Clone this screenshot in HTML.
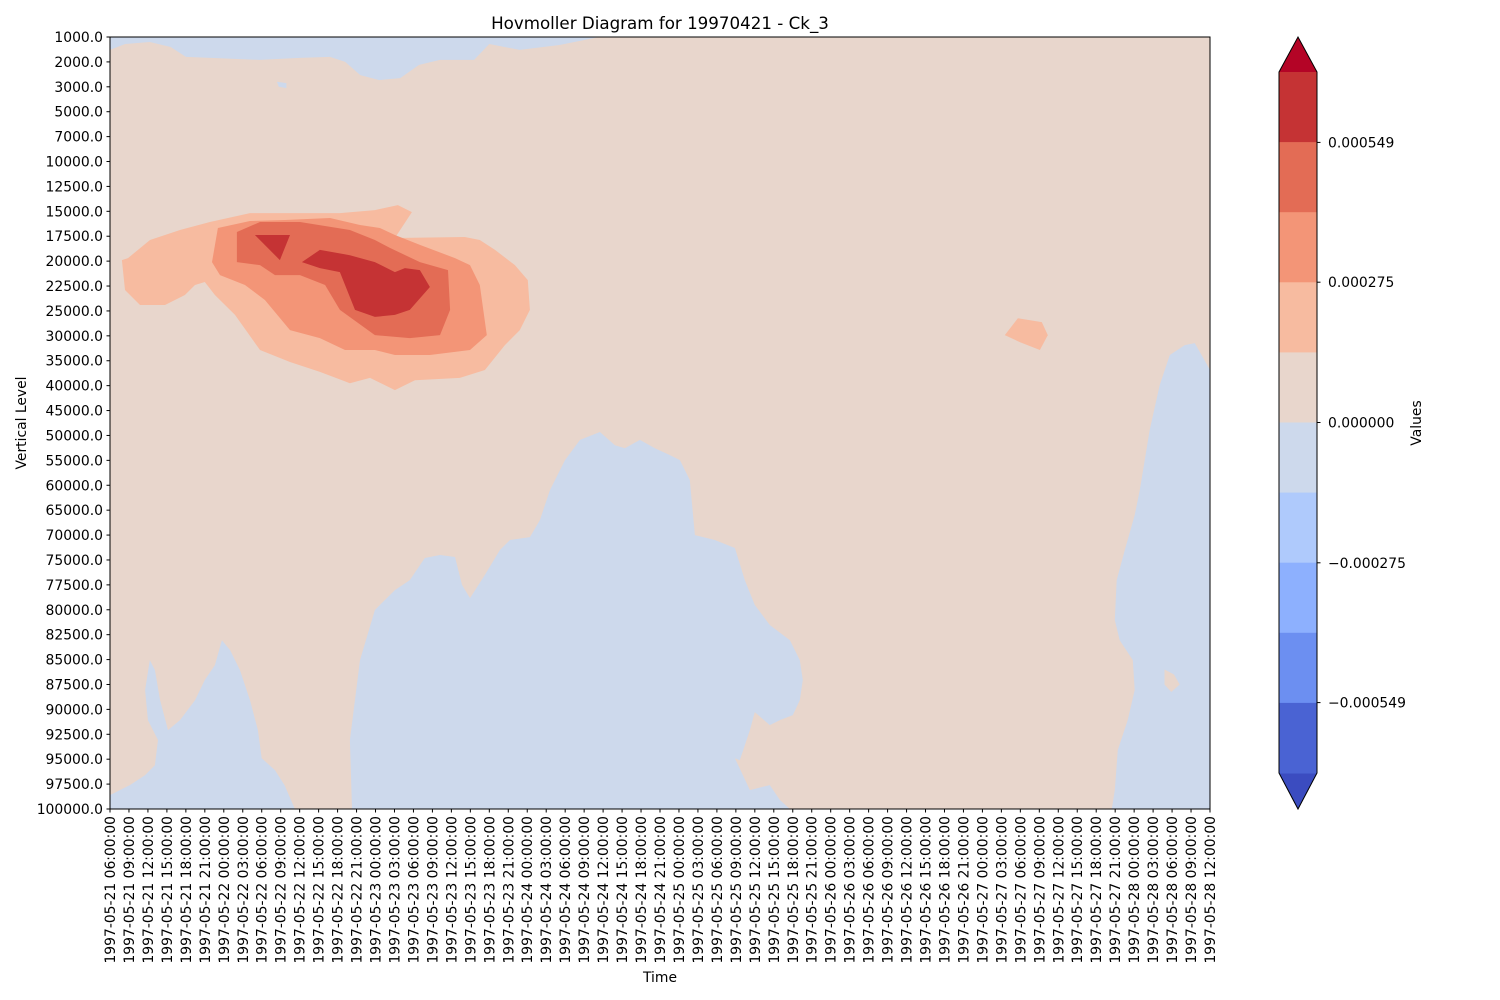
<!DOCTYPE html>
<html><head><meta charset="utf-8">
<style>
html,body{margin:0;padding:0;background:#fff;}
svg{display:block;font-family:"DejaVu Sans","Liberation Sans",sans-serif;}
</style></head>
<body>
<svg id="chart" width="1500" height="1000" viewBox="0 0 1500 1000" xmlns="http://www.w3.org/2000/svg">
<text x="660" y="29" font-size="16.7" text-anchor="middle">Hovmoller Diagram for 19970421 - Ck_3</text>
<g id="plot"></g>
<g id="axes"></g>
<g id="cbar"></g>
<text x="660" y="982" font-size="13.9" text-anchor="middle">Time</text>
<text transform="translate(26,423) rotate(-90)" font-size="13.9" text-anchor="middle">Vertical Level</text>
<text transform="translate(1421,423) rotate(-90)" font-size="13.9" text-anchor="middle">Values</text>
</svg>
<script>
// ---- data ----
const levels = [1000,2000,3000,5000,7000,10000,12500,15000,17500,20000,22500,25000,30000,35000,40000,45000,50000,55000,60000,65000,70000,75000,77500,80000,82500,85000,87500,90000,92500,95000,97500,100000];
const startTime = "1997-05-21 06:00:00";
const nTimes = 59; // 3-hourly steps
const cbarTickValues = [0.000549,0.000275,0.000000,-0.000275,-0.000549];
const cbarTickLabels = ["0.000549","0.000275","0.000000","\u22120.000275","\u22120.000549"];
const cbarBandColors = ["#c53334","#e36c55","#f39577","#f7bba0","#e8d6cc","#cdd9ec","#afcafc","#8db0fe","#6c8ff1","#4a63d3"];
const cbarMin = -0.000687, cbarMax = 0.000687;
// contour regions: [timeIndex, levelIndex]
const blueTop = [[0,0],[25.8,0],[23.7,0.32],[21.6,0.52],[20.0,0.28],[19.2,0.92],[17.4,0.92],[16.3,1.12],[15.3,1.65],[14.2,1.73],[13.2,1.53],[12.4,1.0],[11.6,0.8],[10.0,0.84],[7.9,0.92],[5.3,0.84],[4.0,0.8],[3.2,0.4],[2.1,0.2],[0.8,0.28],[0,0.52]];
const blueLeft = [[0,30.44],[1.05,30.04],[1.85,29.64],[2.37,29.24],[2.53,28.23],[2.0,27.43],[1.85,26.22],[2.1,25.02],[2.37,25.42],[2.64,26.63],[3.06,27.83],[3.69,27.43],[4.48,26.63],[5.0,25.82],[5.53,25.22],[5.9,24.22],[6.33,24.62],[6.85,25.42],[7.38,26.63],[7.8,27.83],[8.0,28.96],[8.7,29.44],[9.2,30.04],[9.75,31],[0,31]];
const blueMid = [[12.76,31],[12.65,28.23],[13.18,25.02],[13.97,23.01],[15.02,22.21],[15.81,21.81],[16.6,20.92],[17.4,20.8],[18.19,20.88],[18.56,22.0],[18.98,22.53],[19.77,21.6],[20.56,20.6],[21.09,20.2],[22.14,20.08],[22.67,19.4],[23.2,18.19],[23.99,16.99],[24.78,16.18],[25.83,15.86],[26.62,16.39],[27.15,16.51],[27.94,16.18],[28.73,16.51],[29.52,16.79],[30.05,16.99],[30.57,17.79],[30.84,20.0],[31.89,20.2],[32.95,20.52],[33.47,21.81],[34.0,22.81],[34.79,23.61],[35.85,24.22],[36.37,25.02],[36.53,25.82],[36.37,26.63],[36.0,27.23],[35.32,27.43],[34.79,27.63],[34.0,27.11],[33.74,27.83],[33.21,29.04],[32.95,28.96],[33.74,30.24],[34.79,30.04],[35.32,30.64],[35.85,31]];
const blueRight = [[52.82,31],[52.98,30.24],[53.14,28.63],[53.66,27.43],[54.03,26.22],[53.93,25.02],[53.24,24.22],[52.98,23.41],[53.08,21.81],[53.51,20.6],[54.03,19.2],[54.3,18.19],[54.82,15.78],[55.35,13.98],[55.88,12.77],[56.67,12.37],[57.2,12.29],[58,13.37],[58,31]];
const peachBlob = [[55.6,25.4],[56.1,25.6],[56.4,26.0],[55.96,26.3],[55.6,26.0]];
const blueDot = [[8.8,1.8],[9.3,1.85],[9.3,2.05],[8.9,2.0]];
const red1 = [[0.63,8.96],[0.79,10.16],[1.58,10.76],[2.9,10.76],[3.95,10.36],[4.48,9.96],[5.0,9.84],[5.53,10.36],[6.59,11.16],[7.91,12.57],[9.49,13.05],[11.07,13.45],[12.65,13.9],[13.71,13.69],[15.02,14.18],[16.08,13.78],[18.45,13.69],[19.77,13.37],[20.82,12.37],[21.61,11.77],[22.14,10.96],[22.03,9.76],[21.35,9.16],[20.3,8.55],[19.5,8.15],[18.71,8.03],[15.02,8.07],[15.92,7.03],[15.18,6.75],[13.97,6.95],[12.12,7.07],[7.38,7.07],[5.27,7.43],[3.69,7.75],[2.11,8.15],[0.95,8.88]];
const red1b = [[47.18,11.97],[47.87,11.29],[49.13,11.45],[49.45,11.97],[49.03,12.57],[47.97,12.25]];
const red2 = [[5.38,9.04],[5.8,9.56],[7.12,9.96],[8.17,10.56],[9.49,11.77],[11.07,12.09],[12.39,12.57],[13.97,12.57],[15.02,12.77],[16.87,12.77],[18.98,12.57],[19.87,11.97],[19.5,9.96],[18.98,9.16],[18.19,8.88],[16.34,8.35],[15.02,7.95],[14.23,7.67],[13.18,7.55],[11.6,7.27],[9.22,7.35],[7.38,7.39],[5.69,7.67]];
const red3 = [[6.69,7.83],[6.69,9.04],[7.91,9.16],[8.7,9.56],[10.02,9.56],[11.34,9.96],[12.12,10.96],[13.97,11.97],[15.81,12.09],[17.4,11.97],[17.93,10.96],[17.82,9.36],[16.34,9.04],[14.76,8.47],[13.97,8.15],[12.65,7.75],[10.02,7.43],[7.91,7.43]];
const red4a = [[7.64,7.95],[8.96,8.96],[9.49,7.95]];
const red4b = [[10.12,9.04],[11.07,9.28],[12.12,9.44],[12.92,10.96],[13.97,11.24],[15.02,11.16],[15.81,10.96],[16.87,10.04],[16.34,9.36],[15.55,9.28],[15.02,9.44],[13.97,9.04],[12.65,8.76],[11.07,8.55]];

// ---- axes ----
const X0=110, X1=1210, Y0=37, Y1=809;
const xScale = t => X0 + t*(X1-X0)/(nTimes-1);
const yScale = l => Y0 + l*(Y1-Y0)/(levels.length-1);
const NS="http://www.w3.org/2000/svg";
function mk(tag, attrs, parent){const e=document.createElementNS(NS,tag);for(const k in attrs)e.setAttribute(k,attrs[k]);parent.appendChild(e);return e;}
const plot=document.getElementById('plot'), axes=document.getElementById('axes'), cbar=document.getElementById('cbar');

const bg=mk('rect',{x:X0,y:Y0,width:X1-X0,height:Y1-Y0,fill:'#e8d6cc'},plot);



const regions=[[blueTop,'#cdd9ec','contour-negative-top'],[blueLeft,'#cdd9ec','contour-negative-left'],[blueMid,'#cdd9ec','contour-negative-middle'],[blueRight,'#cdd9ec','contour-negative-right'],[peachBlob,'#e8d6cc','contour-neutral-blob'],[blueDot,'#cdd9ec','contour-negative-dot'],[red1,'#f7bba0','contour-level-1'],[red1b,'#f7bba0','contour-level-1-small'],[red2,'#f39577','contour-level-2'],[red3,'#e36c55','contour-level-3'],[red4a,'#c53334','contour-level-4a'],[red4b,'#c53334','contour-level-4b']];
regions.forEach(r=>{
  const p=mk('polygon',{points:r[0].map(v=>xScale(v[0]).toFixed(1)+','+yScale(v[1]).toFixed(1)).join(' '),fill:r[1]},plot);
  
  
});

const frame=mk('rect',{x:X0,y:Y0,width:X1-X0,height:Y1-Y0,fill:'none',stroke:'#000','stroke-width':1},axes);



levels.forEach((lv,i)=>{
  const y=yScale(i);
  mk('line',{x1:X0-3.5,x2:X0,y1:y,y2:y,stroke:'#000'},axes);
  const t=mk('text',{x:X0-7,y:y+5,'font-size':13.9,'text-anchor':'end'},axes);
  t.textContent=lv.toFixed(1);
  
  
});
const start=new Date(Date.UTC(1997,4,21,6));
const pad=n=>String(n).padStart(2,'0');
for(let i=0;i<nTimes;i++){
  const x=xScale(i);
  mk('line',{x1:x,x2:x,y1:Y1,y2:Y1+3.5,stroke:'#000'},axes);
  const d=new Date(start.getTime()+i*3*3600e3);
  const s=d.getUTCFullYear()+'-'+pad(d.getUTCMonth()+1)+'-'+pad(d.getUTCDate())+' '+pad(d.getUTCHours())+':00:00';
  const t=mk('text',{transform:`translate(${x+5},${Y1+7}) rotate(-90)`,'font-size':13.9,'text-anchor':'end'},axes);
  t.textContent=s;
  
  
}

// ---- colorbar ----
const CX0=1279, CX1=1317, CT=72, CB=773;
const bh=(CB-CT)/cbarBandColors.length;
const cy=v=>CT+(cbarMax-v)/(cbarMax-cbarMin)*(CB-CT);
const tri1=mk('polygon',{points:`${CX0},${CT} ${CX1},${CT} ${(CX0+CX1)/2},37`,fill:'#b40426'},cbar);


const tri2=mk('polygon',{points:`${CX0},${CB} ${CX1},${CB} ${(CX0+CX1)/2},809`,fill:'#3b4cc0'},cbar);


cbarBandColors.forEach((c,i)=>{
  const r=mk('rect',{x:CX0,y:CT+i*bh,width:CX1-CX0,height:bh+0.5,fill:c},cbar);
  
  
});
mk('polygon',{points:`${CX0},${CT} ${(CX0+CX1)/2},37 ${CX1},${CT} ${CX1},${CB} ${(CX0+CX1)/2},809 ${CX0},${CB}`,fill:'none',stroke:'#000','stroke-width':1},cbar);
cbarTickValues.forEach((v,i)=>{
  const y=cy(v);
  mk('line',{x1:CX1,x2:CX1+3.5,y1:y,y2:y,stroke:'#000'},cbar);
  const t=mk('text',{x:CX1+11,y:y+5,'font-size':13.9},cbar);
  t.textContent=cbarTickLabels[i];
  
  
});
</script>
</body></html>
